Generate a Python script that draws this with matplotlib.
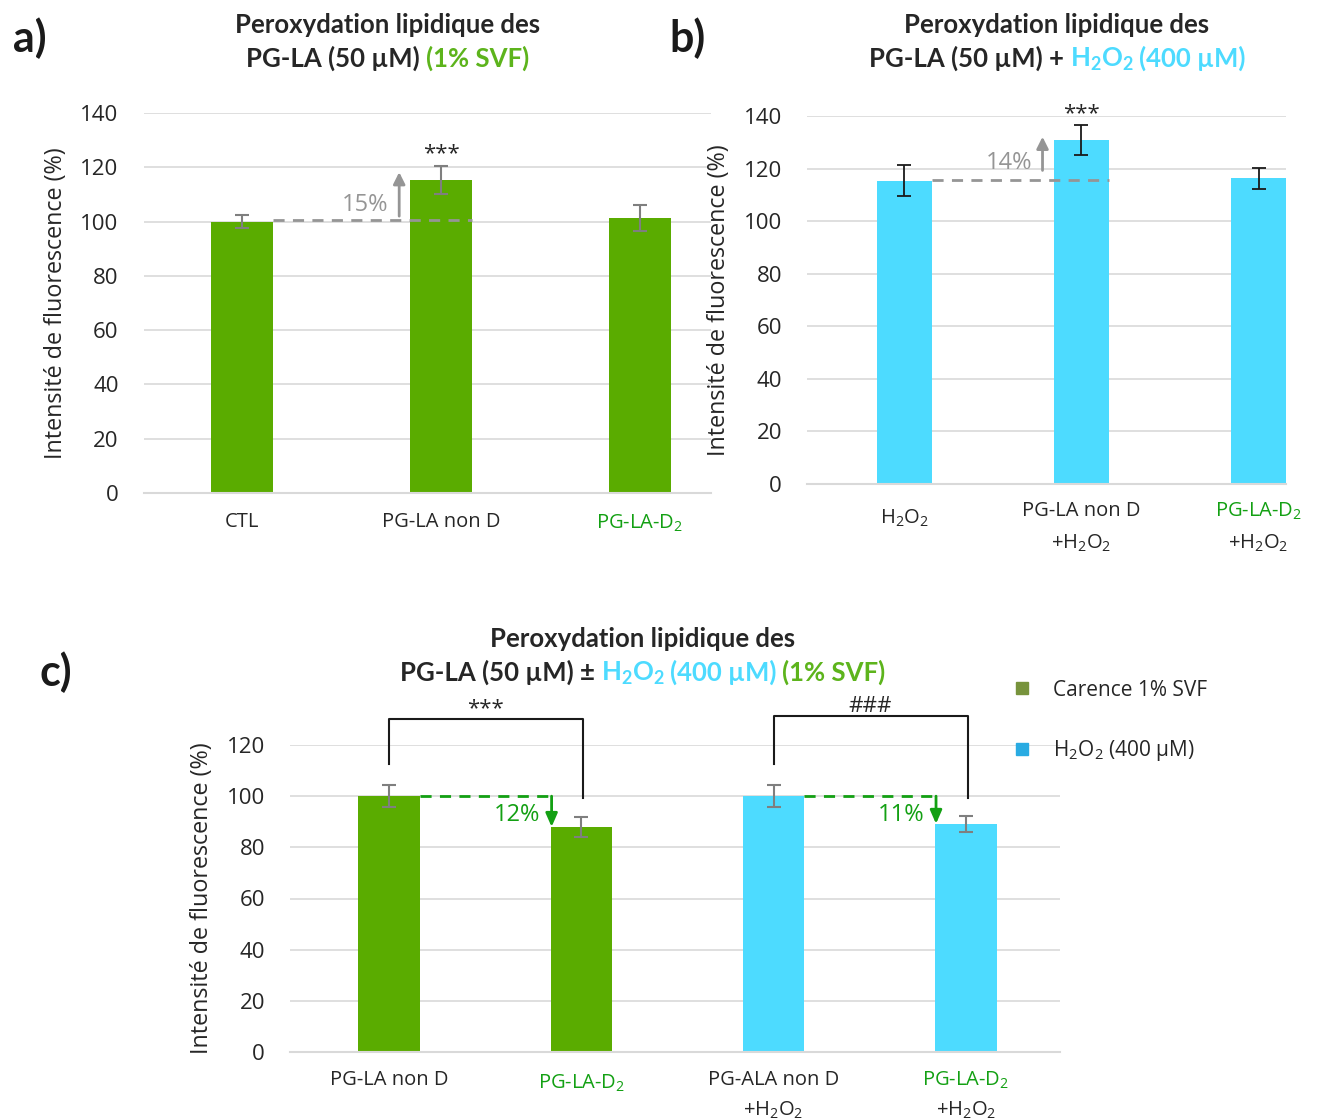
import matplotlib
matplotlib.use("Agg")
import matplotlib.pyplot as plt
from matplotlib.lines import Line2D

W, H = 1319, 1120

# --- data -------------------------------------------------------------
a_labels = ["CTL", "PG-LA non D", "PG-LA-D$_2$"]
a_values = [100.0, 115.2, 101.3]
a_err = [2.5, 5.2, 4.8]
a_pct = "15%"

b_labels = ["H$_2$O$_2$", "PG-LA non D", "PG-LA-D$_2$"]
b_values = [115.3, 130.8, 116.4]
b_err = [5.9, 5.8, 4.0]
b_pct = "14%"

c_labels = ["PG-LA non D", "PG-LA-D$_2$", "PG-ALA non D", "PG-LA-D$_2$"]
c_values = [100.0, 88.0, 100.0, 89.2]
c_err = [4.3, 4.0, 4.3, 3.2]
c_pct = ["12%", "11%"]
c_signif = ["***", "###"]

GREEN = "#5AAC00"
CYAN = "#4DDBFF"
T_GREEN = "#5DB41C"
L_GREEN = "#13A013"
DARK = "#262626"
GRID = "#D9D9D9"
GREY = "#959595"

plt.rcParams["font.family"] = ["Open Sans", "DejaVu Sans"]
plt.rcParams["mathtext.fontset"] = "custom"
plt.rcParams["mathtext.rm"] = "Open Sans"
plt.rcParams["mathtext.it"] = "Open Sans:italic"
plt.rcParams["mathtext.bf"] = "Lato:bold"

fig = plt.figure(figsize=(W / 100, H / 100), dpi=100)


def px_axes(l, r, b, t):
    return fig.add_axes([l / W, 1 - b / H, (r - l) / W, (b - t) / H])


def style(ax, ymax, step):
    ax.set_ylim(0, ymax)
    ax.set_yticks(range(0, ymax + 1, step))
    ax.grid(axis="y", color=GRID, linewidth=1.2)
    ax.set_axisbelow(True)
    for s in ["top", "right", "left"]:
        ax.spines[s].set_visible(False)
    ax.spines["bottom"].set_color(GRID)
    ax.spines["bottom"].set_linewidth(1.5)
    ax.tick_params(axis="y", length=0, labelsize=16, labelcolor=DARK, pad=18)
    ax.tick_params(axis="x", length=0)
    ax.set_xticks([])
    ax.set_ylabel("Intensité de fluorescence (%)", fontsize=16.8, color=DARK, labelpad=9)


def xlab(ax, x, text, color=DARK, dy=10):
    ax.annotate(text, xy=(x, 0), xycoords=("data", "axes fraction"),
                xytext=(0, -dy), textcoords="offset points",
                ha="center", va="top", fontsize=14.5, color=color)


def segments(x_px, y_px, parts, size=18.5):
    # parts: (text, color, gap_before_px)
    r = fig.canvas.get_renderer()
    texts, widths = [], []
    for s, c, g in parts:
        t = fig.text(0, 1 - y_px / H, s, color=c, fontsize=size, fontweight="bold",
                     family="Lato", ha="left", va="baseline")
        texts.append(t)
        widths.append(t.get_window_extent(r).width)
    total = sum(widths) + sum(p[2] for p in parts)
    x = x_px - total / 2
    for t, w, p in zip(texts, widths, parts):
        x += p[2]
        t.set_x(x / W)
        x += w


# --- panel a ----------------------------------------------------------
bw = 0.31
ax = px_axes(143.5, 711, 493, 113)
xa = range(len(a_values))
ax.bar(xa, a_values, width=bw, color=GREEN, yerr=a_err, ecolor="#7F7F7F",
       error_kw=dict(capsize=5, elinewidth=1.5, capthick=1.5))
ax.set_xlim(-0.495, 2.357)
style(ax, 140, 20)
ax.plot([bw / 2, 1 + bw / 2], [a_values[0] + 0.5] * 2, ls=(0, (4, 3)), color=GREY, lw=2)
ax.annotate("", xy=(0.79, a_values[1] + 3), xytext=(0.79, a_values[0] + 2),
            arrowprops=dict(arrowstyle="-|>,head_width=0.35,head_length=0.7",
                            color=GREY, lw=2, shrinkA=0, shrinkB=0))
ax.text(0.62, 106, a_pct, color=GREY, fontsize=17, ha="center", va="center")
ax.text(1, a_values[1] + a_err[1] + 0.8, "***", fontsize=16, ha="center", va="bottom", color=DARK)
xlab(ax, 0, a_labels[0], dy=14)
xlab(ax, 1, a_labels[1], dy=14)
xlab(ax, 2, a_labels[2], L_GREEN, dy=14)

# --- panel b ----------------------------------------------------------
ax = px_axes(807, 1286, 484, 116)
xb = range(len(b_values))
ax.bar(xb, b_values, width=bw, color=CYAN, yerr=b_err, ecolor="#1A1A1A",
       error_kw=dict(capsize=5, elinewidth=1.3, capthick=1.3))
ax.set_xlim(-0.55, 2 + bw / 2)
style(ax, 140, 20)
ax.plot([bw / 2, 1 + bw / 2], [b_values[0] + 0.4] * 2, ls=(0, (4, 3)), color=GREY, lw=2)
ax.annotate("", xy=(0.78, b_values[1] + 1.3), xytext=(0.78, b_values[0] + 4),
            arrowprops=dict(arrowstyle="-|>,head_width=0.35,head_length=0.7",
                            color=GREY, lw=2, shrinkA=0, shrinkB=0))
ax.text(0.59, 122, b_pct, color=GREY, fontsize=17, ha="center", va="center")
ax.text(1, b_values[1] + b_err[1] + 0.2, "***", fontsize=16, ha="center", va="bottom", color=DARK)
xlab(ax, 0, b_labels[0], dy=17)
xlab(ax, 1, b_labels[1], dy=12)
xlab(ax, 1, "+H$_2$O$_2$", dy=35)
xlab(ax, 2, b_labels[2], L_GREEN, dy=12)
xlab(ax, 2, "+H$_2$O$_2$", dy=35)

# --- panel c ----------------------------------------------------------
ax = px_axes(290, 1060, 1052, 745)
xc = range(len(c_values))
ax.bar(xc, c_values, width=0.32, color=[GREEN, GREEN, CYAN, CYAN], yerr=c_err,
       ecolor="#7F7F7F", error_kw=dict(capsize=5, elinewidth=1.5, capthick=1.5))
ax.set_xlim(-0.516, 3.49)
style(ax, 120, 20)
for i, (x0, x1) in enumerate([(0, 1), (2, 3)]):
    xr = x1 - 0.155
    ax.plot([x0 + 0.16, xr], [c_values[x0]] * 2, ls=(0, (4, 3)), color=L_GREEN, lw=2,
            clip_on=False)
    ax.annotate("", xy=(xr, c_values[x1]), xytext=(xr, c_values[x0]),
                arrowprops=dict(arrowstyle="-|>,head_width=0.35,head_length=0.8",
                                color=L_GREEN, lw=2, shrinkA=0, shrinkB=0))
    ax.text(xr - 0.18, 92.5, c_pct[i], color=L_GREEN, fontsize=17, ha="center", va="center")
    top = 130.2 + i * 1.2
    ax.plot([x0, x0, x1 + 0.01, x1 + 0.01], [112.6, top, top, 99.3], color="#1A1A1A",
            lw=1.5, clip_on=False)
    ax.text((x0 + x1) / 2, top - 0.3, c_signif[i], fontsize=16, ha="center", va="bottom",
            color=DARK, clip_on=False)
xlab(ax, 0, c_labels[0], dy=13)
xlab(ax, 1, c_labels[1], L_GREEN, dy=15)
xlab(ax, 2, c_labels[2], dy=13)
xlab(ax, 2, "+H$_2$O$_2$", dy=34)
xlab(ax, 3, c_labels[3], L_GREEN, dy=13)
xlab(ax, 3, "+H$_2$O$_2$", dy=34)

handles = [Line2D([], [], marker="s", ls="", color="#77933C", markersize=9),
           Line2D([], [], marker="s", ls="", color="#29ABE2", markersize=9)]
fig.legend(handles, ["Carence 1% SVF", "H$_2$O$_2$ (400 µM)"], loc="upper left",
           bbox_to_anchor=(982 / W, 1 - 661 / H), frameon=False, fontsize=15,
           labelspacing=1.8, handletextpad=0.5, labelcolor=DARK)

# --- titles -----------------------------------------------------------
segments(388, 33, [("Peroxydation lipidique des", DARK, 0)])
segments(388, 67, [("PG-LA (50 µM)", DARK, 0), ("(1% SVF)", T_GREEN, 6)])
segments(1057, 33, [("Peroxydation lipidique des", DARK, 0)])
segments(1057, 67, [("PG-LA (50 µM) +", DARK, 0),
                    ("$\\mathbf{H_2O_2}$", CYAN, 6), ("(400 µM)", CYAN, 5)])
segments(643, 647, [("Peroxydation lipidique des", DARK, 0)])
segments(643, 681, [("PG-LA (50 µM) ±", DARK, 0),
                    ("$\\mathbf{H_2O_2}$", CYAN, 6), ("(400 µM)", CYAN, 5),
                    ("(1% SVF)", T_GREEN, 6)])

for x, y, s in [(30, 38, "a)"), (688, 38, "b)"), (56, 672, "c)")]:
    fig.text(x / W, 1 - y / H, s, fontsize=31, fontweight="bold", family="Lato",
             color="#1A1A1A", ha="center", va="center")

fig.savefig("out.png", dpi=100)
